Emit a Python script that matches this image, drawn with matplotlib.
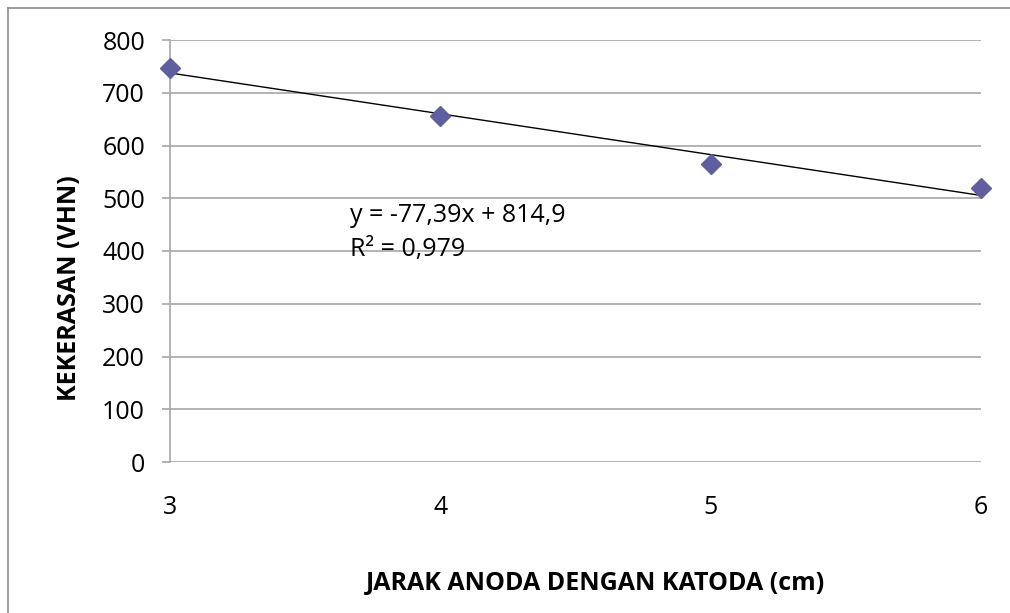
import matplotlib
matplotlib.use("Agg")
import matplotlib.pyplot as plt
from matplotlib.lines import Line2D
import numpy as np

# Hardness measurements versus anode-cathode distance
jarak_cm = [3, 4, 5, 6]
kekerasan_vhn = [747, 655, 565, 519]

# Linear trendline (fitted against the point index 1..n)
trend_slope = -77.39
trend_intercept = 814.9
trend_r2 = 0.979

y_ticks = [0, 100, 200, 300, 400, 500, 600, 700, 800]

plt.rcParams["font.family"] = ["Open Sans", "DejaVu Sans"]

W, H = 1010, 613
fig = plt.figure(figsize=(W / 100, H / 100), dpi=100)
ax = fig.add_axes([170 / W, 1 - 462 / H, (981 - 170) / W, (462 - 40) / H])

marker_color = "#5F5F9F"
grid_color = "#A6A6A6"
fs = 18

# Trendline drawn from the stated equation
idx = np.arange(1, len(jarak_cm) + 1)
trend_y = trend_intercept + trend_slope * idx
ax.plot(jarak_cm, trend_y, color="black", lw=1.0, zorder=3)

ax.plot(jarak_cm, kekerasan_vhn, linestyle="none", marker="D", markersize=10,
        color=marker_color, markeredgecolor=marker_color, zorder=4, clip_on=False)

ax.set_xlim(3, 6)
ax.set_ylim(0, 800)
ax.set_yticks(y_ticks)
ax.set_xticks(jarak_cm)
ax.set_xticklabels([str(v) for v in jarak_cm])

ax.yaxis.grid(True, color=grid_color, lw=1.2)
ax.set_axisbelow(True)
for side in ["top", "right", "bottom"]:
    ax.spines[side].set_visible(False)
ax.spines["left"].set_color(grid_color)
ax.spines["left"].set_linewidth(1.2)

ax.tick_params(axis="y", length=6, width=1.2, color=grid_color, pad=12,
               labelsize=fs, labelcolor="black")
ax.tick_params(axis="x", length=0, pad=24, labelsize=fs, labelcolor="black")

# Equation and R² annotations
eq_text = "y = {} x + {}".format(f"{trend_slope:.2f}".replace(".", ","),
                                f"{trend_intercept:.1f}".replace(".", ",")).replace(" x", "x")
ax.text(3.666, 468, eq_text, fontsize=fs, ha="left", va="center")
ax.text(3.666, 402, "R² = " + f"{trend_r2:.3f}".replace(".", ","),
        fontsize=fs, ha="left", va="center")

# Axis titles
fig.text(595 / W, 1 - 583 / H, "JARAK ANODA DENGAN KATODA (cm)", ha="center",
         va="center", fontsize=fs, fontweight="bold")
fig.text(70 / W, 1 - 288 / H, "KEKERASAN (VHN)", ha="center", va="center",
         rotation=90, fontsize=fs, fontweight="bold")

# Chart frame edges
frame_color = "#8C8C8C"
fig.add_artist(Line2D([8 / W, 1.0], [1 - 8 / H, 1 - 8 / H], color=frame_color,
                      lw=1.2, transform=fig.transFigure))
fig.add_artist(Line2D([8 / W, 8 / W], [0.0, 1 - 8 / H], color=frame_color,
                      lw=1.2, transform=fig.transFigure))

fig.savefig("out.png", dpi=100)
